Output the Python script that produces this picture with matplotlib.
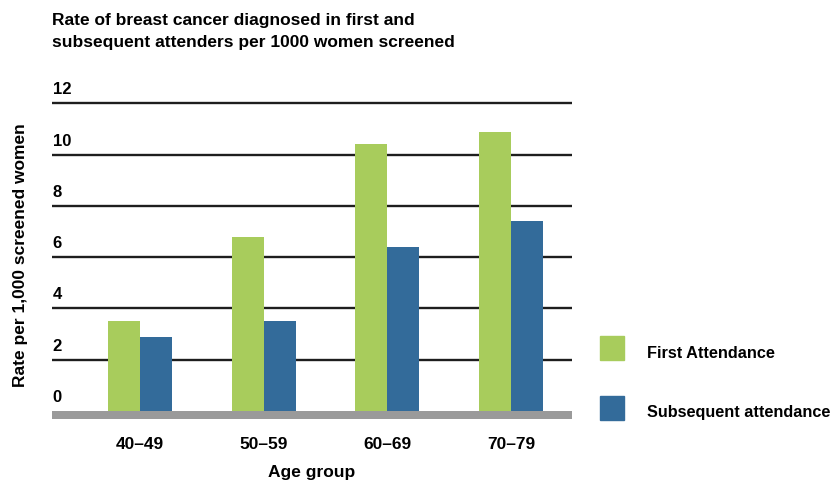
import numpy as np
import matplotlib
matplotlib.use("Agg")
import matplotlib.pyplot as plt
from matplotlib.transforms import offset_copy

# rates per 1000 women screened
age_groups = ["40\u201349", "50\u201359", "60\u201369", "70\u201379"]
first_att = [3.5, 6.8, 10.4, 10.9]
subseq_att = [2.9, 3.5, 6.4, 7.4]
yticks = [0, 2, 4, 6, 8, 10, 12]

green = "#a8cc5c"
blue = "#336b9a"

plt.rcParams["font.family"] = ["Liberation Sans", "DejaVu Sans"]
plt.rcParams["font.weight"] = "bold"

W, H = 835, 484
fig = plt.figure(figsize=(W / 100, H / 100), dpi=100)

# axes box in pixels: left 52, right 572, top ~98, bottom 419
ax = fig.add_axes([52 / W, (H - 419) / H, 520 / W, (419 - 98.2) / H])
ybot = -8 / 25.64
ax.set_ylim(ybot, 12.2)
ax.set_xlim(-0.711, 3.493)

x = np.arange(len(age_groups))
bw = 0.259
ax.bar(x - bw / 2, first_att, bw, color=green, zorder=3, label="First Attendance")
ax.bar(x + bw / 2, subseq_att, bw, color=blue, zorder=3, label="Subsequent attendance")

# gridlines and the grey floor
for v in yticks[1:]:
    ax.axhline(v, color="#1e1e1e", lw=1.7, zorder=1)
ax.axhspan(ybot, 0, color="#9a9a9a", zorder=2, lw=0)

for s in ax.spines.values():
    s.set_visible(False)

# y labels sit above each line, inside the plot
ax.set_yticks([])
for v in yticks:
    tr = offset_copy(ax.transData, fig=fig, x=0, y=6, units="dots")
    ax.text(-0.711 + 0.005, v, str(v), transform=tr, ha="left", va="bottom",
            fontsize=12, fontweight="bold")

ax.set_xticks(x)
ax.set_xticklabels(age_groups, fontsize=12.5, fontweight="bold")
ax.tick_params(axis="x", length=0, pad=13)
ax.set_xlabel("Age group", fontsize=12.5, fontweight="bold", labelpad=9)

fig.text(21 / W, 1 - 255 / H, "Rate per 1,000 screened women", rotation=90,
         ha="center", va="center", fontsize=12.5, fontweight="bold")

fig.text(52 / W, 1 - 21 / H, "Rate of breast cancer diagnosed in first and",
         ha="left", va="center", fontsize=12.5, fontweight="bold")
fig.text(52 / W, 1 - 42 / H, "subsequent attenders per 1000 women screened",
         ha="left", va="center", fontsize=12.5, fontweight="bold")

# legend drawn by hand on the right
for (cy, col, lab) in [(348, green, "First Attendance"), (408, blue, "Subsequent attendance")]:
    fig.patches.append(plt.Rectangle((600 / W, 1 - (cy + 12) / H), 24 / W, 24 / H,
                                     transform=fig.transFigure, color=col, figure=fig))
    fig.text(647 / W, 1 - (cy + 5) / H, lab, ha="left", va="center",
             fontsize=11.7, fontweight="bold")

fig.savefig("out.png", dpi=100)
